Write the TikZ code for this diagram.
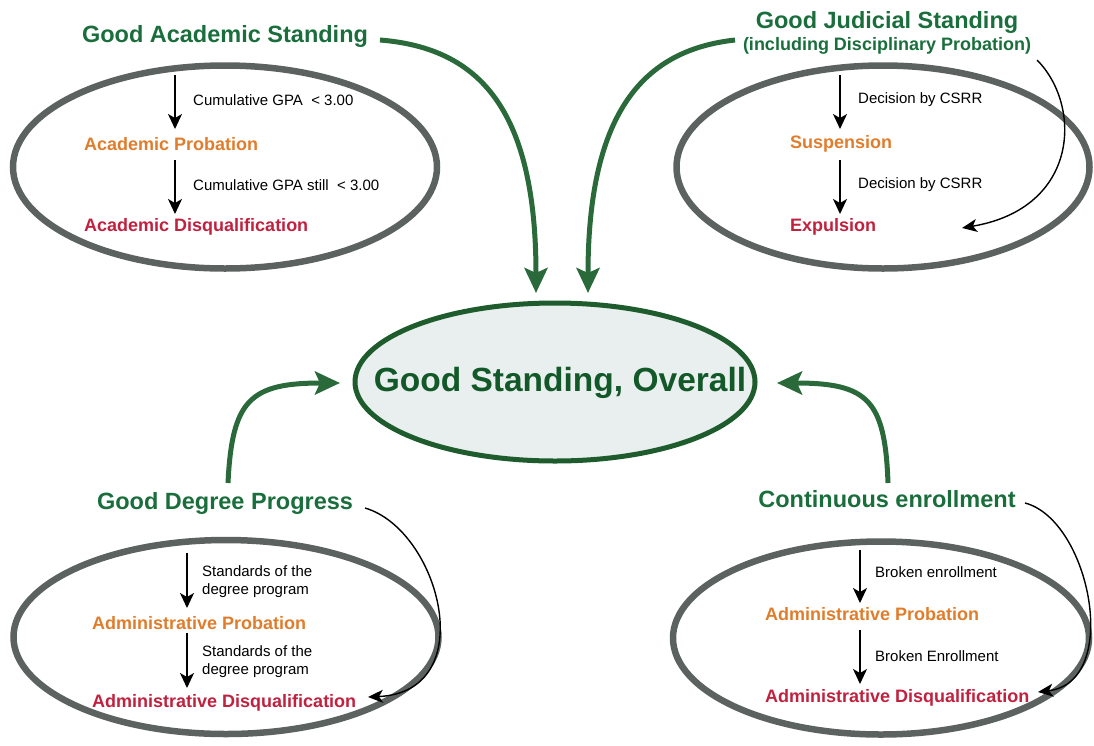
\documentclass[tikz,border=0pt]{standalone}
\usepackage{fontspec}
\setmainfont{Liberation Sans}
\usetikzlibrary{arrows.meta,shapes.geometric}
\definecolor{hgreen}{RGB}{25,110,60}
\definecolor{ctext}{RGB}{18,88,40}
\definecolor{agreen}{RGB}{42,106,58}
\definecolor{cborder}{RGB}{30,92,45}
\definecolor{cfill}{RGB}{233,238,238}
\definecolor{orangec}{RGB}{224,125,44}
\definecolor{crimson}{RGB}{192,33,63}
\definecolor{ringgray}{RGB}{92,98,95}
\begin{document}
\begin{tikzpicture}[x=1pt,y=-1pt,
  heading/.style={font=\bfseries\fontsize{23.5}{26}\selectfont, text=hgreen, inner sep=0pt},
  subhead/.style={font=\bfseries\fontsize{18}{20}\selectfont, text=hgreen, inner sep=0pt},
  stage/.style={font=\bfseries\fontsize{18}{20}\selectfont, inner sep=0pt, anchor=west},
  prob/.style={stage, text=orangec},
  disq/.style={stage, text=crimson},
  lbl/.style={font=\fontsize{15}{18}\selectfont, anchor=west, inner sep=0pt, align=left},
  ring/.style={ellipse, draw=ringgray, line width=6.5pt, inner sep=0pt},
  smallarr/.style={line width=1.5pt, -{Stealth[length=15pt,width=14pt,inset=4pt]}},
  bigarr/.style={draw=agreen, line width=5pt, -{Stealth[length=25pt,width=23pt,inset=5pt]}},
  curvarr/.style={line width=1.4pt, -{Stealth[length=15pt,width=13pt,inset=4pt]}}
]
\useasboundingbox (0,0) rectangle (1094,745);

% ---------- rings ----------
\node[ring, minimum width=424pt, minimum height=203pt] (ringA) at (225,167) {};
\node[ring, minimum width=413pt, minimum height=203pt] (ringJ) at (883,167) {};
\node[ring, minimum width=425pt, minimum height=194pt] (ringD) at (226,637) {};
\node[ring, minimum width=416pt, minimum height=193pt] (ringC) at (881,638) {};

% ---------- centre ----------
\node[ellipse, draw=cborder, fill=cfill, line width=5pt, minimum width=400pt, minimum height=158pt] (centre) at (555,382) {};
\node[font=\bfseries\fontsize{33.5}{36}\selectfont, text=ctext, inner sep=0pt] (ctxt) at (560,383) {Good Standing, Overall};

% ---------- Academic ----------
\node[heading] (hA) at (225,36) {Good Academic Standing};
\coordinate (a1s) at (175,75);  \coordinate (a1e) at (175,129);
\node[lbl] (lA1) at (193,100) {Cumulative GPA\ \ < 3.00};
\node[prob] (pA) at (84,144) {Academic Probation};
\coordinate (a2s) at (175,160); \coordinate (a2e) at (175,214);
\node[lbl] (lA2) at (193,185) {Cumulative GPA still\ \ < 3.00};
\node[disq] (dA) at (84,227) {Academic Disqualification};
\draw[smallarr] (a1s) -- (a1e);
\draw[smallarr] (a2s) -- (a2e);

% ---------- Judicial ----------
\node[heading] (hJ) at (887,22) {Good Judicial Standing};
\node[subhead] (hJ2) at (887,46) {(including Disciplinary Probation)};
\coordinate (j1s) at (840,75);  \coordinate (j1e) at (840,129);
\node[lbl] (lJ1) at (858,100) {Decision by CSRR};
\node[prob] (pJ) at (790,144) {Suspension};
\coordinate (j2s) at (840,160); \coordinate (j2e) at (840,214);
\node[lbl] (lJ2) at (858,185) {Decision by CSRR};
\node[disq] (dJ) at (790,227) {Expulsion};
\draw[smallarr] (j1s) -- (j1e);
\draw[smallarr] (j2s) -- (j2e);
\coordinate (jcs) at (1037,60); \coordinate (jce) at (962,228);
\draw[curvarr] (jcs) .. controls (1082,105) and (1080,208) .. (jce);

% ---------- Degree progress ----------
\node[heading] (hD) at (225,503) {Good Degree Progress};
\coordinate (d1s) at (187,553); \coordinate (d1e) at (187,608);
\node[lbl] (lD1) at (202,582) {Standards of the\\degree program};
\node[prob] (pD) at (92,623) {Administrative Probation};
\coordinate (d2s) at (187,633); \coordinate (d2e) at (187,688);
\node[lbl] (lD2) at (202,662) {Standards of the\\degree program};
\node[disq] (dD) at (92,703) {Administrative Disqualification};
\draw[smallarr] (d1s) -- (d1e);
\draw[smallarr] (d2s) -- (d2e);
\coordinate (dcs) at (365,508); \coordinate (dce) at (368,697);
\draw[curvarr] (dcs) .. controls (440,530) and (482,692) .. (dce);

% ---------- Continuous enrollment ----------
\node[heading] (hC) at (887,499) {Continuous enrollment};
\coordinate (c1s) at (860,550); \coordinate (c1e) at (860,603);
\node[lbl] (lC1) at (875,572) {Broken enrollment};
\node[prob] (pC) at (765,614) {Administrative Probation};
\coordinate (c2s) at (860,630); \coordinate (c2e) at (860,684);
\node[lbl] (lC2) at (875,656) {Broken Enrollment};
\node[disq] (dC) at (765,698) {Administrative Disqualification};
\draw[smallarr] (c1s) -- (c1e);
\draw[smallarr] (c2s) -- (c2e);
\coordinate (ccs) at (1025,503); \coordinate (cce) at (1038,692);
\draw[curvarr] (ccs) .. controls (1090,520) and (1122,682) .. (cce);

% ---------- green arrows to centre ----------
\coordinate (gAs) at (380,40);  \coordinate (gAe) at (536,293);
\coordinate (gJs) at (735,40);  \coordinate (gJe) at (588,293);
\coordinate (gDs) at (228,483); \coordinate (gDe) at (340,383);
\coordinate (gCs) at (888,483); \coordinate (gCe) at (777,383);
\draw[bigarr] (gAs) .. controls (480,48) and (536,110) .. (gAe);
\draw[bigarr] (gJs) .. controls (645,50) and (588,110) .. (gJe);
\draw[bigarr] (gDs) .. controls (232,400) and (250,383) .. (gDe);
\draw[bigarr] (gCs) .. controls (885,400) and (868,383) .. (gCe);
\end{tikzpicture}
\end{document}
